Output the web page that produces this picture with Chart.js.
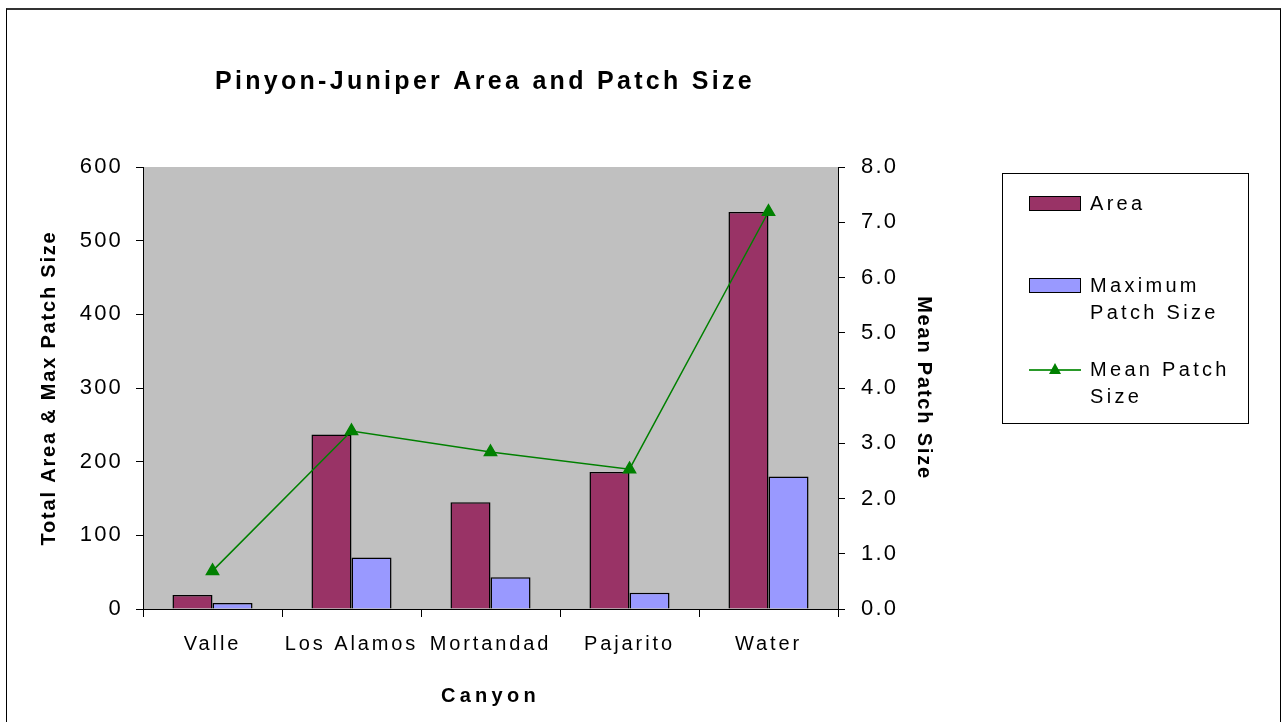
<!DOCTYPE html>
<html>
<head>
<meta charset="utf-8">
<script src="https://cdn.jsdelivr.net/npm/chart.js@4"></script>
<style>
  body { margin:0; background:#fff; font-family: Arial, "Liberation Sans", sans-serif; }
  #wrap { position:relative; width:1283px; height:722px; overflow:hidden; }
  #frame { position:absolute; left:6px; top:8px; width:1273px; height:730px; border-top:2px solid #333; border-left:1px solid #000; border-right:1px solid #000; }
  #chart { position:absolute; left:0; top:0; }
  #legend { position:absolute; left:1002px; top:173px; width:247px; height:251px; border:1px solid #000; box-sizing:border-box; }
  .item { position:absolute; left:87px; font-size:20px; letter-spacing:3.3px; line-height:27px; color:#000; white-space:nowrap; }
  .sw { position:absolute; left:26px; width:52px; height:15px; border:1.5px solid #000; box-sizing:border-box; }
  .ln { position:absolute; left:26px; width:52px; height:0; border-top:2px solid #2a9a2a; }
  .tri { position:absolute; left:20px; top:-8px; width:0; height:0; border-left:6px solid transparent; border-right:6px solid transparent; border-bottom:11px solid #008000; }
</style>
</head>
<body>
<div id="wrap">
  <div id="frame"></div>
  <canvas id="chart" width="1283" height="722"></canvas>
  <div id="legend"></div>
</div>
<script>
const canyons = ['Valle', 'Los Alamos', 'Mortandad', 'Pajarito', 'Water'];
const areaVals = [19, 237, 145, 186, 539];
const maxPatchVals = [8, 70, 43, 22, 180];
const meanPatchVals = [0.69, 3.22, 2.84, 2.53, 7.19];
const leftTicks = [0, 100, 200, 300, 400, 500, 600];
const rightTicks = [0, 1, 2, 3, 4, 5, 6, 7, 8];

const font = 'Arial, "Liberation Sans", sans-serif';
const colors = { area: '#993366', max: '#9999FF', mean: '#008000' };

// letter spacing per scale: [tick labels, axis title]
const scaleSpacing = { x: ['2.9px', '4.3px'], y: ['2.2px', '1.8px'], y1: ['2.2px', '1.8px'] };

const styling = {
  id: 'styling',
  afterUpdate(chart) {
    for (const [id, sp] of Object.entries(scaleSpacing)) {
      const s = chart.scales[id];
      if (!s || s._spaced) continue;
      const dl = s.drawLabels.bind(s), dt = s.drawTitle.bind(s);
      s.drawLabels = a => { s.ctx.letterSpacing = sp[0]; dl(a); s.ctx.letterSpacing = '0px'; };
      s.drawTitle = a => { s.ctx.letterSpacing = sp[1]; dt(a); s.ctx.letterSpacing = '0px'; };
      s._spaced = true;
    }
  },
  beforeDraw(chart) {
    const {ctx, chartArea: a} = chart;
    ctx.save();
    ctx.fillStyle = '#C0C0C0';
    ctx.fillRect(a.left, a.top, a.right - a.left, a.bottom - a.top);
    ctx.restore();
  },
  afterDraw(chart) {
    const ctx = chart.ctx;
    ctx.save();
    ctx.letterSpacing = '3.3px';
    ctx.font = 'bold 25px ' + font;
    ctx.fillStyle = '#000';
    ctx.textAlign = 'center';
    ctx.textBaseline = 'middle';
    ctx.fillText('Pinyon-Juniper Area and Patch Size', 485, 82);
    ctx.restore();
  }
};

new Chart(document.getElementById('chart').getContext('2d'), {
  data: {
    labels: canyons,
    datasets: [
      { type: 'line', label: 'Mean Patch Size', data: meanPatchVals, yAxisID: 'y1',
        borderColor: colors.mean, backgroundColor: colors.mean, borderWidth: 1.5,
        pointStyle: 'triangle', pointRadius: 7, pointBackgroundColor: colors.mean, pointBorderColor: colors.mean,
        tension: 0, order: 0 },
      { type: 'bar', label: 'Area', data: areaVals, yAxisID: 'y',
        backgroundColor: colors.area, borderColor: '#000', borderWidth: 1.5,
        barPercentage: 1, categoryPercentage: 0.576, order: 1 },
      { type: 'bar', label: 'Maximum Patch Size', data: maxPatchVals, yAxisID: 'y',
        backgroundColor: colors.max, borderColor: '#000', borderWidth: 1.5,
        barPercentage: 1, categoryPercentage: 0.576, order: 1 }
    ]
  },
  options: {
    responsive: false, animation: false,
    layout: { padding: { top: 167, right: 335, left: 0, bottom: 0 } },
    plugins: { legend: { display: false }, title: { display: false }, tooltip: { enabled: false } },
    scales: {
      x: {
        afterFit: s => { s.height = 113; },
        grid: { display: true, drawOnChartArea: false, color: '#000', tickLength: 8, offset: true },
        border: { color: '#000', width: 1 },
        ticks: { color: '#000', font: { family: font, size: 20 }, padding: 15, maxRotation: 0, autoSkip: false },
        title: { display: true, text: 'Canyon', color: '#000', font: { family: font, size: 20, weight: 'bold' }, padding: { top: 0, bottom: 14 } }
      },
      y: {
        position: 'left', min: 0, max: 600,
        afterFit: s => { s.width = 143; },
        afterBuildTicks: s => { s.ticks = leftTicks.map(v => ({ value: v })); },
        grid: { drawOnChartArea: false, color: '#000', tickLength: 7 },
        border: { color: '#000', width: 1 },
        ticks: { color: '#000', font: { family: font, size: 22 }, padding: 13 },
        title: { display: true, text: 'Total Area & Max Patch Size', color: '#000', font: { family: font, size: 20, weight: 'bold' }, padding: { top: 37, bottom: 0 } }
      },
      y1: {
        position: 'right', min: 0, max: 8,
        afterFit: s => { s.width = 110; },
        afterBuildTicks: s => { s.ticks = rightTicks.map(v => ({ value: v })); },
        grid: { drawOnChartArea: false, color: '#000', tickLength: 7 },
        border: { color: '#000', width: 1 },
        ticks: { color: '#000', font: { family: font, size: 22 }, padding: 16, callback: v => v.toFixed(1) },
        title: { display: true, text: 'Mean Patch Size', color: '#000', font: { family: font, size: 20, weight: 'bold' }, padding: { top: 12, bottom: 0 } }
      }
    }
  },
  plugins: [styling]
});

// legend box
const legend = document.getElementById('legend');
legend.innerHTML =
  `<div class="sw" style="top:22px;background:${colors.area}"></div>` +
  `<div class="item" style="top:16px">Area</div>` +
  `<div class="sw" style="top:104px;background:${colors.max}"></div>` +
  `<div class="item" style="top:98px">Maximum<br>Patch Size</div>` +
  `<div class="ln" style="top:195px"><div class="tri"></div></div>` +
  `<div class="item" style="top:182px">Mean Patch<br>Size</div>`;
</script>
</body>
</html>
